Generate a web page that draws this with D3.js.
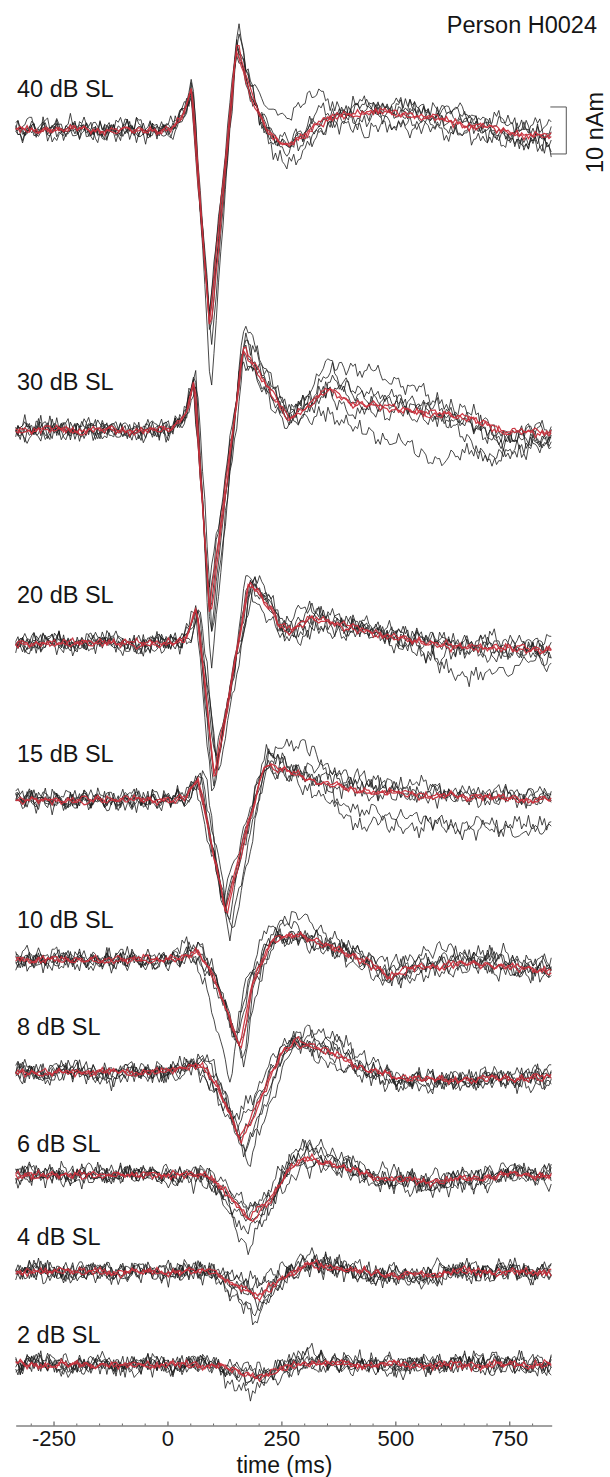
<!DOCTYPE html>
<html><head><meta charset="utf-8">
<script src="https://cdn.jsdelivr.net/npm/d3@7"></script>
<style>
body{margin:0;background:#fff}
svg{display:block}
text{font-family:"Liberation Sans",Arial,Helvetica,sans-serif;fill:#151515}
</style>
</head><body>
<svg id="chart" width="610" height="1477"></svg>
<script>
// ---------------- DATA ----------------
const levels = ["40 dB SL","30 dB SL","20 dB SL","15 dB SL","10 dB SL","8 dB SL","6 dB SL","4 dB SL","2 dB SL"];
// vertical offset of each row's zero line (nAm)
const rowOffsets = [262.8, 198.9, 153.6, 120.2, 86.2, 62.3, 40.4, 19.8, 0];

// average (red) waveform key points per level: time (ms) / amplitude (nAm)
const avgTimes = [
  [-333,0,15,30,45,52,93,152,175,200,230,260,300,330,380,450,520,600,657,700,770,843],
  [-333,0,25,45,59,93,166,213,264,310,354,400,486,571,657,700,725,843],
  [-333,0,35,50,64,103,179,230,247,273,315,401,486,571,657,843],
  [-333,0,40,55,67,128,162,213,247,315,358,401,486,657,843],
  [-333,0,30,67,100,160,187,230,290,358,444,486,529,657,742,843],
  [-333,0,40,75,110,160,213,247,281,358,400,444,500,571,700,843],
  [-333,0,85,130,179,230,270,307,360,444,550,650,742,843],
  [-333,0,105,145,196,250,315,400,500,560,650,843],
  [-333,0,115,160,196,250,320,400,843]
];
const avgValues = [
  [0,0,0.5,2.5,6,9.5,-42.6,18.1,10,3.5,-1.5,-3.6,-1,1.5,3,3.8,3.5,2.2,1.1,0.5,-0.8,-1.5],
  [0,0,1.5,5,10.8,-39.8,17.7,10,2.8,5,8.9,5.7,4.9,3.6,2.8,1.5,-0.4,-0.4],
  [0,0,0.5,3,7.8,-28.7,12.8,7,3.4,2.8,5.5,3.4,1.3,0,-0.8,-1.5],
  [0,0,0.5,2.5,5,-24,-11.2,7.9,6.4,4.3,3.6,2.1,1.5,0.7,0],
  [0,0,0.3,2,-3,-19.1,-4.9,4.3,5.3,2.8,-0.6,-3.6,-2.1,-0.6,-1.5,-2.5],
  [0,0,1,2,-3.2,-14.5,-3.8,3.2,6.8,4,2.5,0.4,-1,-1.7,-1.5,-1],
  [0,0,0,-3.5,-9.6,-4.7,1.5,3.8,2.5,-0.4,-1.2,-1,0,0],
  [0,0,0,-2.6,-5.5,-1,1.5,0.3,-0.6,-0.6,0,0],
  [0,0,0,-1.8,-2.6,-0.8,0.6,0,0]
];

// single (black) traces: amplitude gain and latency shift (ms) relative to the average
const blackGains = [
  [1.0,1.3,0.95,1.08,0.9,1.02],
  [1.0,1.32,0.85,1.1,0.95,1.07],
  [1.05,0.9,1.2,1.0,0.85,1.1],
  [1.1,0.9,1.15,1.0,0.95,1.2],
  [1.2,0.85,1.1,1.0,0.9,1.35],
  [1.2,0.8,1.15,1.0,0.9,1.4],
  [1.3,0.8,1.2,1.0,0.9,1.65],
  [1.6,0.6,1.3,1.0,0.4,1.8],
  [2.2,0.5,1.3,0.3,1.0,1.6]
];
const blackShifts = [
  [0,2,-2,3,-1,1],
  [0,3,-3,6,-2,2],
  [0,5,-4,8,2,-2],
  [4,-6,8,0,-3,12],
  [8,-10,5,0,-6,-20],
  [10,-15,5,0,-8,18],
  [-10,12,5,-20,0,-5],
  [-8,10,5,0,-15,-5],
  [-15,10,5,0,-10,-5]
];
// slow drift of each single trace (nAm) at these knots (ms)
const driftKnots = [-333,-200,-100,0,100,200,300,400,500,600,700,843];
const blackDrift = [
  [[0,.5,-.5,0,0,0,1,1.5,1,.5,0,1],[-.5,0,.5,0,0,-1,-4,0,.5,0,-.5,-1],[.5,0,-.5,0,0,4,8,0,-2,-2,-1,-2],[0,-.5,.5,0,0,0,-1,-3,-3.5,-2,-1.5,-2],[.5,1,0,0,0,0,0,1.5,2,2.5,1.5,1],[-.5,-.5,0,0,0,0,.5,-1,-.5,1,2,2]],
  [[0,.5,0,0,0,0,2,8,6,2,0,0],[.5,0,-.5,0,0,0,0,1,0,-2,-2,-1],[0,-.5,.5,0,0,0,-2,-4,-7,-9,-6,-2],[-.5,0,0,0,0,0,1,2,1,0,-3,-1],[0,.5,0,0,0,0,-1,-1,1,2,-1,0],[.5,-.5,0,0,0,0,0,0,-2,-1,-7,-1]],
  [[0,0,-.5,0,0,0,-3,0,0,0,0,0],[.5,-.5,0,0,0,0,1,1,0,-5,-6,-2],[-.5,.5,0,0,0,1,1,0,1,1,-1,1],[0,0,.5,0,0,0,0,1,1,0,2,1],[.5,0,0,0,0,-1,-1,0,-1,-2,-1,-2],[0,.5,0,0,0,0,0,-1,1,1,1,0]],
  [[0,0,0,0,0,2,6,2,0,0,0,0],[.5,-.5,0,0,0,0,-1,-6,-7,-6,-7,-6],[0,.5,-.5,0,0,0,0,-4,-5,-7,-5,-6],[-.5,0,.5,0,0,0,1,1,1,0,1,1],[0,0,0,0,0,0,0,0,-1,1,0,0],[.5,0,0,0,0,0,1,1,2,1,0,1]],
  [[0,0,0,0,0,0,3,0,1,1,0,0],[0,.5,0,0,0,0,0,1,2,3,2,1],[.5,0,-.5,0,0,0,-1,0,-1,-1,0,-1],[0,-.5,0,0,0,0,0,1,0,1,2,1],[-.5,0,0,0,0,0,1,-1,-1,0,-1,0],[0,0,.5,0,0,0,0,0,1,2,1,2]],
  [[0,0,0,0,0,0,1,0,-1,0,0,0],[0,-1,0,0,0,0,2,1,-2,-1,-1,-2],[0,0,0,0,0,0,-1,0,0,0,1,0],[0,.5,0,0,0,0,0,-1,0,0,0,1],[0,0,-1,0,0,0,0,-2,-1,0,0,0],[0,0,0,0,0,0,0,1,0,1,0,1]],
  [[0,0,0,0,0,0,1,1,0,0,-1,0],[0,-.5,0,0,0,0,0,-1,-1,0,1,0],[0,0,.5,0,0,0,2,0,0,-1,0,0],[.5,0,0,0,0,0,-1,0,1,1,0,-1],[0,0,0,0,0,0,0,0,-1,0,1,1],[0,.5,0,0,0,0,0,1,0,-1,0,0]],
  [[0,0,0,0,0,0,1,0,0,0,0,0],[0,0,.5,0,0,0,1,1,-1,0,0,0],[0,0,0,0,0,0,-1,-1,0,0,1,0],[.5,0,0,0,0,0,0,0,-1,-1,0,0],[0,-.5,0,0,0,0,1,0,0,0,0,0],[0,0,0,0,0,0,0,-1,0,1,0,0]],
  [[0,0,0,0,0,0,1,0,0,0,0,0],[0,0,0,0,0,0,1,1,0,0,1,0],[0,0,0,0,0,0,-1,0,0,0,0,0],[0,0,.5,0,0,0,0,0,-1,0,0,0],[0,0,0,0,0,0,0,1,0,0,0,0],[0,0,0,0,0,0,0,0,0,1,1,0]]
];
// red sub-averages
const redGains = [0.97, 1.03];
const redShifts = [-1, 1];

// measured background noise snippets (0.1 nAm units)
const noise0 = [3,-2,5,1,-4,-1,6,2,-3,-7,-2,4,8,3,-1,-5,-3,2,6,1,-2,-6,-9,-4,1,5,3,-1,2,7,4,-2,-5,-1,3,-3,-8,-5,0,4,9,5,1,-3,-1,2,-4,-6,-2,3,6,2,-1,-5,-2,4,7,3,-2,-4,1,5,-1,-6,-10,-5,-1,3,6,8,4,-1,-3,2,5,0,-4,-7,-3,1,4,-2,-5,0,6,10,5,2,-3,-6,-2,1,-1,-5,-8,-4,2,5,3,7,4,-1,-3,-6,-2,3,1,-4,-2,5,8,3,-1,-5,-7,-3,2,6,4,0,-4,-2,3,7,2,-3,-8,-5,-1,4,1,-2,3,6,9,4,0,-4,-6,-1,2,-3,-5,1,5,2,-2,-7,-4,0,3,8,5,1,-2,-5,-3,2,4,-1,-6,-3,1,6,3,-2,-4,0,5,2,-3,-9,-5,-2,4,7,3,-1,-3,2,6,1,-4,-7,-2,3,5,0,-3,-1,4,2,-2,-5,1];
const noise1 = [-4,1,6,3,-2,-6,-1,4,2,-3,-8,-4,0,5,9,4,-1,-5,-2,3,1,-3,-6,-1,4,7,2,-2,-4,1,5,3,-3,-7,-3,2,6,4,-1,-5,-9,-5,-2,3,7,5,1,-3,-1,4,2,-4,-8,-3,1,6,3,-2,-5,-1,5,8,4,-2,-6,-3,2,4,-2,-5,-1,3,6,1,-4,-7,-3,2,5,10,6,1,-3,-7,-4,0,3,-1,-4,2,5,1,-3,-6,-8,-2,3,6,2,-1,4,7,3,-3,-5,-2,1,-4,-7,-3,2,6,3,-2,-5,0,4,8,4,-1,-6,-3,2,5,1,-4,-2,3,6,2,-5,-9,-4,1,4,2,-2,3,7,4,-1,-4,-7,-2,2,5,1,-3,-1,4,8,3,-2,-6,-3,1,5,2,-4,-8,-4,0,3,6,2,-2,-5,-1,4,7,3,-3,-6,-2,2,5,1,-3,-7,-2,4,6,0,-4,-2,3,5,-1,-6,-3];
const noise2 = [2,6,1,-3,-7,-4,1,5,3,-2,-5,-1,4,8,5,0,-4,-8,-5,-1,3,6,2,-3,-6,-2,2,7,4,-1,-4,0,5,2,-3,-9,-6,-2,3,6,3,-1,-5,-2,4,9,5,1,-3,-6,-2,2,-1,-5,-3,3,7,4,-2,-7,-4,1,5,2,-3,0,4,7,3,-2,-6,-10,-5,0,4,2,-2,3,6,2,-3,-5,-1,5,8,3,-1,-4,-7,-3,1,5,2,-2,-6,-2,3,7,4,0,-3,2,5,1,-4,-8,-4,1,3,-1,-5,-2,4,8,5,1,-3,-6,-2,3,6,2,-2,-5,-8,-3,2,5,1,-2,3,7,3,-1,-5,-2,2,6,1,-4,-7,-3,1,4,-1,-5,-2,4,9,4,0,-3,-6,-2,3,5,1,-4,-2,3,6,2,-3,-7,-4,0,5,3,-2,-6,-1,4,7,3,-2,-4,1,5,-1,-6,-8,-3,2,6,3,-1];
const noise3 = [-1,-5,-2,3,7,4,-1,-4,-8,-3,2,5,1,-3,0,6,9,4,-2,-5,-2,3,5,0,-5,-7,-2,4,2,-3,-6,-1,5,8,3,-2,-4,1,6,3,-2,-7,-4,2,5,1,-3,-6,-2,4,7,3,-1,-5,-3,2,6,1,-4,-9,-5,0,4,2,-2,3,8,5,1,-3,-5,-1,3,-2,-6,-3,2,6,4,-1,-4,-2,4,7,2,-3,-8,-4,1,5,2,-3,-1,5,9,4,0,-4,-7,-3,2,4,-1,-5,-2,3,6,2,-3,-6,-1,4,7,3,-2,-5,-8,-3,1,5,3,-1,-4,2,6,3,-2,-6,-2,3,5,1,-4,-7,-2,2,6,4,0,-3,-6,-2,3,8,4,-1,-5,-2,2,6,1,-3,-7,-3,1,4,-1,-5,0,5,8,3,-2,-6,-3,2,5,1,-4,-2,3,7,3,-2,-5,-9,-4,1,5,2,-2,3,6,1,-3,-5];
const noise4 = [5,1,-3,-6,-2,3,7,3,-2,-5,-1,4,2,-3,-8,-4,1,6,3,-1,-4,2,7,4,-2,-6,-3,1,5,2,-3,-6,-1,4,9,5,0,-4,-2,3,6,1,-5,-8,-3,2,5,2,-2,-5,-1,4,8,3,-1,-6,-3,2,5,-1,-5,-2,4,7,2,-3,-6,-2,3,6,2,-4,-9,-5,-1,3,6,3,-1,-4,1,5,2,-3,-7,-3,2,6,3,-2,-5,-1,4,8,4,-1,-4,-7,-2,3,5,1,-3,-6,-2,3,7,3,-2,-5,-1,4,2,-4,-8,-3,2,6,4,0,-3,2,6,2,-3,-6,-2,4,8,4,-1,-5,-3,1,5,1,-4,-7,-3,2,6,3,-2,-4,2,7,4,-1,-6,-9,-4,1,4,1,-3,-5,0,5,8,3,-2,-5,-2,3,6,1,-3,-7,-2,3,5,1,-4,-6,-1,4,7,3,-2,-5,-1,3,6,2,-3,-8,-4,1,5];
const noise5 = [-3,2,6,2,-2,-7,-3,1,4,-1,-5,0,5,9,4,-1,-4,-2,3,6,1,-4,-8,-4,2,5,2,-3,-1,4,7,3,-2,-6,-3,2,5,1,-4,-7,-2,3,6,3,-1,-5,-2,4,8,4,-1,-4,-8,-3,2,5,0,-4,-1,4,6,2,-3,-6,-2,3,7,3,-2,-5,-1,5,2,-3,-7,-4,1,6,3,-2,-5,-1,4,9,4,0,-3,-7,-3,2,4,-1,-5,-2,3,6,2,-2,-5,-1,4,7,2,-3,-8,-4,1,5,2,-3,-6,-1,3,7,4,-1,-4,2,6,2,-3,-6,-2,3,5,1,-4,-9,-4,1,5,3,-1,-4,1,6,3,-2,-5,-1,4,8,3,-2,-6,-3,2,5,1,-3,-7,-2,3,6,2,-2,-4,2,7,3,-3,-6,-2,3,5,0,-5,-8,-3,2,6,3,-1,-4,1,5,2,-3,-6,-2];
const noise6 = [1,-3,-7,-2,3,6,2,-2,-5,1,5,8,3,-2,-6,-3,2,4,-1,-5,-2,4,7,3,-2,-4,-8,-4,1,5,3,-1,-4,2,6,2,-3,-7,-3,2,5,1,-3,-1,4,9,5,0,-4,-6,-2,3,5,1,-4,-7,-2,3,6,3,-1,-5,-2,3,7,3,-2,-6,-3,1,4,-1,-5,0,5,8,4,-1,-4,-7,-3,2,6,2,-3,-5,-1,4,6,1,-4,-9,-4,1,5,2,-2,3,7,3,-1,-5,-2,2,5,1,-4,-7,-3,2,6,4,0,-3,1,5,2,-3,-6,-2,3,8,4,-1,-5,-3,2,5,1,-4,-8,-3,2,6,2,-2,-4,2,6,3,-2,-6,-2,3,5,0,-4,-7,-3,2,6,3,-1,-4,1,5,9,4,-1,-5,-2,3,6,2,-3,-6,-2,4,7,3,-2,-5,-1,3,-2,-6,-3,2];
const noise7 = [-2,3,7,3,-1,-5,-2,4,2,-3,-7,-4,1,6,3,-1,-4,1,5,9,4,-1,-5,-8,-3,2,5,1,-3,-6,-1,4,7,2,-3,-5,-1,5,3,-2,-6,-3,2,6,2,-3,-9,-5,0,4,2,-2,3,7,3,-2,-5,-1,4,6,1,-4,-7,-2,3,5,1,-3,-6,-2,3,8,4,0,-3,-6,-2,2,5,1,-4,-2,4,7,3,-2,-6,-3,2,5,2,-3,-8,-4,1,6,3,-1,-4,2,6,2,-2,-5,-1,4,8,4,-1,-5,-2,3,5,0,-5,-7,-2,3,6,2,-2,-4,2,7,3,-2,-6,-2,3,5,1,-4,-9,-4,2,5,2,-2,3,6,1,-3,-6,-2,4,7,3,-1,-4,-7,-3,2,5,1,-4,-1,4,8,3,-2,-5,-2,3,6,2,-3,-7,-3,1,5,2,-2,-5];
const noise = [noise0,noise1,noise2,noise3,noise4,noise5,noise6,noise7];

const majorTicks = [-250,0,250,500,750];
const minorTicks = [-300,-200,-150,-100,-50,50,100,150,200,300,350,400,450,550,600,650,700,800];
const timeSamples = d3.range(-333, 844, 5);
const scaleBarValue = 10; // nAm

// ---------------- LAYOUT ----------------
const svg = d3.select("#chart");
const x = d3.scaleLinear().domain([-333, 843]).range([15.7, 551.7]);
const y = d3.scaleLinear().domain([0, 262.8]).range([1365, 130]);
const labelGap = [33,40,40,38,32,37,23,27,22];
const FONT = 23.5, TICKFONT = 22;
const noiseScale = 1.7, slowScale = 0.8, redNoiseScale = 0.7;

function makeTrace(r, gain, shift, drift, nA, nB, nC, oA, oB, oC, nScale) {
  const mean = d3.scaleLinear().domain(avgTimes[r]).range(avgValues[r]).clamp(true);
  const dr = drift ? d3.scaleLinear().domain(driftKnots).range(drift).clamp(true) : () => 0;
  const a = noise[nA], b = noise[nB], c = noise[nC];
  return timeSamples.map((t, i) => ({
    t,
    v: gain * mean(t - shift) + dr(t)
       + nScale * (a[(i + oA) % a.length] + 0.8 * b[(3 * i + oB) % b.length]) / 10
       + nScale * slowScale * c[(Math.floor(i / 4) + oC) % c.length] / 10
  }));
}

const gTraces = svg.append("g");
levels.forEach((lab, r) => {
  const off = rowOffsets[r];
  const line = d3.line().x(d => x(d.t)).y(d => y(off + d.v));
  const g = gTraces.append("g");
  blackGains[r].forEach((gn, k) => {
    const data = makeTrace(r, gn, blackShifts[r][k], blackDrift[r][k],
      (r * 3 + k) % 8, (r * 5 + k * 3 + 1) % 8, (r + k * 5 + 3) % 8,
      (r * 23 + k * 7) % 50, (r * 13 + k * 29) % 70, (r * 19 + k * 37) % 90, noiseScale);
    g.append("path").attr("d", line(data)).attr("fill", "none")
      .attr("stroke", "#1c1c1c").attr("stroke-width", 0.9).attr("stroke-opacity", 0.9);
  });
  redGains.forEach((gn, k) => {
    const data = makeTrace(r, gn, redShifts[k], null,
      (r + k * 4 + 5) % 8, (r * 3 + k + 2) % 8, (r * 7 + k * 3 + 4) % 8,
      (r * 11 + k * 31) % 60, (r * 17 + k * 41) % 80, (r * 29 + k * 13) % 90, redNoiseScale);
    g.append("path").attr("d", line(data)).attr("fill", "none")
      .attr("stroke", "#c8303c").attr("stroke-width", 1.25).attr("stroke-opacity", 0.95);
  });
  svg.append("text").attr("x", 17).attr("y", y(off) - labelGap[r])
    .attr("font-size", FONT).text(lab);
});

// axis
const axisY = 1425.5;
const gAx = svg.append("g").attr("transform", `translate(0,${axisY})`);
gAx.call(d3.axisBottom(x).tickValues(majorTicks).tickSizeInner(-4).tickSizeOuter(0)
  .tickPadding(5).tickFormat(d => String(d)));
gAx.selectAll("text").attr("font-size", TICKFONT).attr("font-family", null).attr("fill", "#151515");
gAx.selectAll("path,line").attr("stroke", "#444");
const gMin = svg.append("g").attr("transform", `translate(0,${axisY})`);
gMin.call(d3.axisBottom(x).tickValues(minorTicks).tickSizeInner(-2).tickSizeOuter(0).tickFormat(""));
gMin.select(".domain").remove();
gMin.selectAll("line").attr("stroke", "#666");
svg.append("text").attr("x", x(250) + 3).attr("y", 1473).attr("text-anchor", "middle")
  .attr("font-size", 23).text("time (ms)");

// title
svg.append("text").attr("x", 597).attr("y", 33).attr("text-anchor", "end")
  .attr("font-size", FONT).text("Person H0024");

// scale bar (10 nAm)
const sbTop = y(rowOffsets[0] + 4.9), sbBot = y(rowOffsets[0] + 4.9 - scaleBarValue);
const sbX = x(875), sbX0 = x(840);
svg.append("path").attr("d", `M${sbX0},${sbTop}H${sbX}V${sbBot}H${sbX0}`)
  .attr("fill", "none").attr("stroke", "#555").attr("stroke-width", 1);
svg.append("text").attr("transform", `translate(603,${(sbTop + sbBot) / 2 + 2}) rotate(-90)`)
  .attr("text-anchor", "middle").attr("font-size", FONT).text(scaleBarValue + " nAm");
</script>
</body></html>
